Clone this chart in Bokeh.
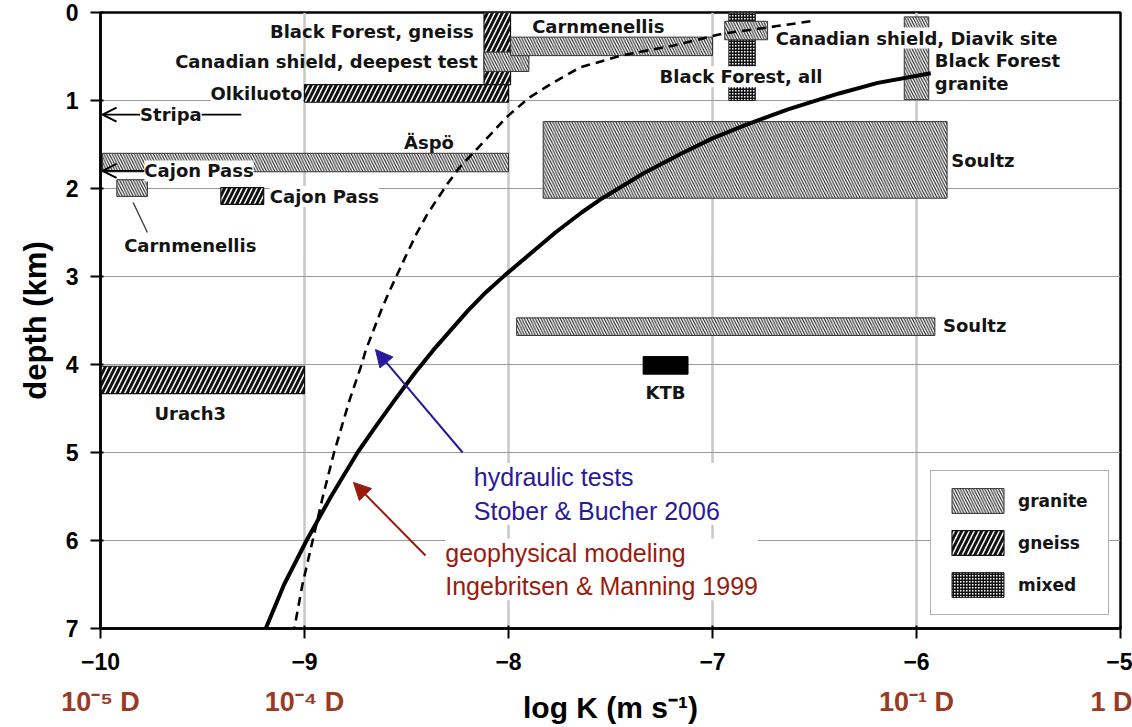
from bokeh.plotting import figure
from bokeh.models import (Range1d, FixedTicker, LinearAxis, ColumnDataSource, Label,
                          Arrow, OpenHead, NormalHead, Legend, LegendItem)
from bokeh.embed import file_html
from bokeh.resources import INLINE

# ---------------- data ----------------
granite_sites = ["Canadian shield, deepest test", "Carnmenellis (upper)", "Äspö",
                 "Carnmenellis (lower)", "Canadian shield, Diavik site",
                 "Black Forest granite", "Soultz (upper)", "Soultz (lower)"]
granite_logk_min = [-8.12, -7.99, -9.99, -9.92, -6.94, -6.06, -7.83, -7.96]
granite_logk_max = [-7.90, -7.00, -8.00, -9.77, -6.73, -5.94, -5.85, -5.91]
granite_depth_top = [0.45, 0.28, 1.60, 1.90, 0.10, 0.05, 1.24, 3.47]
granite_depth_bottom = [0.67, 0.49, 1.81, 2.09, 0.31, 0.99, 2.11, 3.67]

gneiss_sites = ["Black Forest, gneiss", "Olkiluoto", "Cajon Pass", "Urach3"]
gneiss_logk_min = [-8.12, -9.00, -9.41, -10.00]
gneiss_logk_max = [-7.99, -8.00, -9.20, -9.00]
gneiss_depth_top = [0.00, 0.82, 1.99, 4.02]
gneiss_depth_bottom = [0.82, 1.02, 2.18, 4.33]

mixed_sites = ["Black Forest, all"]
mixed_logk_min = [-6.92]
mixed_logk_max = [-6.79]
mixed_depth_top = [0.00]
mixed_depth_bottom = [1.00]

ktb_logk_min = [-7.34]
ktb_logk_max = [-7.12]
ktb_depth_top = [3.91]
ktb_depth_bottom = [4.11]

# sites whose values lie below log K = -10 (shown as arrows)
offscale_sites = ["Stripa", "Cajon Pass"]
offscale_depth = [1.16, 1.80]

# geophysical modeling, Ingebritsen & Manning 1999 (solid)
im_logk = [-5.93, -6.19, -6.38, -6.63, -6.84, -7.00, -7.15, -7.34, -7.54, -7.64, -7.77,
           -8.02, -8.12, -8.20, -8.37, -8.46, -8.56, -8.65, -8.74, -8.87, -8.99, -9.10, -9.19]
im_depth = [0.69, 0.80, 0.92, 1.10, 1.28, 1.43, 1.60, 1.83, 2.11, 2.27, 2.50,
            2.99, 3.20, 3.39, 3.84, 4.10, 4.41, 4.70, 5.00, 5.50, 6.00, 6.50, 7.00]

# hydraulic tests, Stober & Bucher 2006 (dashed)
sb_logk = [-6.52, -6.73, -6.95, -7.19, -7.45, -7.65, -7.79, -7.90, -8.01, -8.13, -8.24,
           -8.30, -8.355, -8.40, -8.45, -8.51, -8.55, -8.59, -8.625, -8.66, -8.70, -8.72,
           -8.78, -8.855, -8.91, -8.96, -9.01, -9.05]
sb_depth = [0.10, 0.17, 0.24, 0.375, 0.49, 0.625, 0.81, 0.97, 1.19, 1.49, 1.76,
            1.95, 2.14, 2.30, 2.51, 2.80, 3.00, 3.20, 3.39, 3.60, 3.84, 4.00,
            4.41, 5.00, 5.50, 6.00, 6.50, 7.00]

x_ticks = [-10, -9, -8, -7, -6, -5]
y_ticks = [0, 1, 2, 3, 4, 5, 6, 7]
darcy_ticks = [-10, -9, -6, -5]
darcy_labels = ["10⁻⁵ D", "10⁻⁴ D", "10⁻¹ D", "1 D"]

# ---------------- figure ----------------
p = figure(width=1132, height=727, x_range=Range1d(-10, -5), y_range=Range1d(7, 0),
           output_backend="svg", toolbar_location=None,
           min_border_left=100, min_border_right=12, min_border_top=12, min_border_bottom=99,
           background_fill_color="white", border_fill_color="white")
p.outline_line_color = "black"
p.outline_line_width = 2.5

TICK_FONT = "Liberation Sans"
LBL_FONT = "DejaVu Sans"

xa = p.xaxis[0]
xa.ticker = FixedTicker(ticks=x_ticks)
ya = p.yaxis[0]
ya.ticker = FixedTicker(ticks=y_ticks)
for ax in (xa, ya):
    ax.axis_line_width = 2.5
    ax.axis_line_color = "black"
    ax.major_tick_line_width = 2
    ax.major_tick_line_color = "black"
    ax.major_tick_out = 10
    ax.major_tick_in = 3
    ax.minor_tick_line_color = None
    ax.major_label_text_font = TICK_FONT
    ax.major_label_text_font_style = "bold"
    ax.major_label_text_font_size = "23px"
    ax.major_label_text_color = "black"
xa.major_label_standoff = 14
ya.major_label_standoff = 12
ya.axis_label = "depth (km)"
ya.axis_label_text_font = TICK_FONT
ya.axis_label_text_font_style = "bold"
ya.axis_label_text_font_size = "31px"
ya.axis_label_text_color = "black"
ya.axis_label_standoff = 10

ax2 = LinearAxis(ticker=FixedTicker(ticks=darcy_ticks),
                 major_label_overrides={t: l for t, l in zip(darcy_ticks, darcy_labels)})
ax2.axis_line_color = None
ax2.major_tick_line_color = None
ax2.minor_tick_line_color = None
ax2.major_tick_out = 0
ax2.major_tick_in = 0
ax2.major_label_standoff = 14
ax2.major_label_text_font = TICK_FONT
ax2.major_label_text_font_style = "bold"
ax2.major_label_text_font_size = "27px"
ax2.major_label_text_color = "#9b3a22"
ax2.axis_label = "log K (m s⁻¹)"
ax2.axis_label_text_font = TICK_FONT
ax2.axis_label_text_font_style = "bold"
ax2.axis_label_text_font_size = "30px"
ax2.axis_label_text_color = "black"
ax2.axis_label_standoff = -29
p.add_layout(ax2, "below")

p.xgrid.ticker = FixedTicker(ticks=[-9, -8, -7, -6])
p.xgrid.grid_line_color = "#c8c8c8"
p.xgrid.grid_line_width = 2.5
p.ygrid.ticker = FixedTicker(ticks=[1, 2, 3, 4, 5, 6])
p.ygrid.grid_line_color = "#9a9a9a"
p.ygrid.grid_line_width = 1.2

# ---------------- bars ----------------
gneiss_src = ColumnDataSource(dict(l=gneiss_logk_min, r=gneiss_logk_max,
                                   t=gneiss_depth_top, b=gneiss_depth_bottom))
granite_src = ColumnDataSource(dict(l=granite_logk_min, r=granite_logk_max,
                                    t=granite_depth_top, b=granite_depth_bottom))
mixed_src = ColumnDataSource(dict(l=mixed_logk_min, r=mixed_logk_max,
                                  t=mixed_depth_top, b=mixed_depth_bottom))
ktb_src = ColumnDataSource(dict(l=ktb_logk_min, r=ktb_logk_max,
                                t=ktb_depth_top, b=ktb_depth_bottom))

r_mixed = p.quad(left="l", right="r", top="t", bottom="b", source=mixed_src,
                 fill_color="white", line_color="#222222", line_width=1,
                 hatch_pattern="+", hatch_scale=3, hatch_weight=2, hatch_color="#111111")
r_gneiss = p.quad(left="l", right="r", top="t", bottom="b", source=gneiss_src,
                  fill_color="white", line_color="#111111", line_width=1.2,
                  hatch_pattern="/", hatch_scale=10, hatch_weight=3, hatch_color="#111111")
r_granite = p.quad(left="l", right="r", top="t", bottom="b", source=granite_src,
                   fill_color="white", line_color="#333333", line_width=1,
                   hatch_pattern="\\", hatch_scale=5.5, hatch_weight=1.1, hatch_color="#222222")
p.quad(left="l", right="r", top="t", bottom="b", source=ktb_src,
       fill_color="black", line_color="black", line_width=1)

# ---------------- curves ----------------
p.line(sb_logk, sb_depth, line_color="black", line_width=2.6, line_dash="9 6",
       line_join="round")
p.line(im_logk, im_depth, line_color="black", line_width=4, line_join="round")

# ---------------- arrows for off-scale sites ----------------
arrow_start = [-9.31, -9.78]
for d, xs in zip(offscale_depth, arrow_start):
    p.add_layout(Arrow(end=OpenHead(size=14, line_width=2, line_color="black"),
                       x_start=xs, y_start=d, x_end=-9.99, y_end=d,
                       line_width=1.6, line_color="black"))
# leader line for lower Carnmenellis
p.line([-9.84, -9.77], [2.16, 2.50], line_color="#333333", line_width=1.3)

# ---------------- site labels ----------------
site_labels = [
    ("Black Forest, gneiss", -8.17, 0.22, "right", False),
    ("Canadian shield, deepest test", -8.15, 0.56, "right", False),
    ("Olkiluoto", -9.01, 0.92, "right", True),
    ("Stripa", -9.655, 1.16, "center", True),
    ("Äspö", -8.39, 1.48, "center", False),
    ("Cajon Pass", -9.785, 1.80, "left", True),
    ("Cajon Pass", -9.17, 2.09, "left", True),
    ("Carnmenellis", -9.56, 2.65, "center", True),
    ("Carnmenellis", -7.56, 0.16, "center", False),
    ("Canadian shield, Diavik site", -6.69, 0.29, "left", True),
    ("Black Forest, all", -6.86, 0.73, "center", True),
    ("Black Forest", -5.91, 0.55, "left", False),
    ("granite", -5.91, 0.81, "left", False),
    ("Soultz", -5.83, 1.68, "left", False),
    ("Soultz", -5.87, 3.56, "left", False),
    ("KTB", -7.23, 4.32, "center", False),
    ("Urach3", -9.56, 4.56, "center", False),
]
for txt, x, y, al, bg in site_labels:
    kw = dict(background_fill_color="white", background_fill_alpha=1.0) if bg else {}
    p.add_layout(Label(x=x, y=y, text=txt, text_align=al, text_baseline="middle",
                       text_font=LBL_FONT, text_font_style="bold",
                       text_font_size="18px", text_color="#141414", **kw))

# ---------------- source annotations ----------------
p.add_layout(Arrow(end=NormalHead(size=17, fill_color="#2a1a9a", line_color="#2a1a9a"),
                   x_start=-8.225, y_start=5.0, x_end=-8.652, y_end=3.83,
                   line_color="#2a1a9a", line_width=2))
p.add_layout(Arrow(end=NormalHead(size=17, fill_color="#9a1a0e", line_color="#9a1a0e"),
                   x_start=-8.407, y_start=6.17, x_end=-8.76, y_end=5.34,
                   line_color="#9a1a0e", line_width=2))
p.add_layout(Label(x=-8.17, y=5.12, text="hydraulic tests\nStober & Bucher 2006",
                   text_align="left", text_baseline="top", text_font="Liberation Sans",
                   text_font_size="25px", text_color="#2a1a9a",
                   background_fill_color="white", background_fill_alpha=1.0))
p.add_layout(Label(x=-8.31, y=5.98, text="geophysical modeling\nIngebritsen & Manning 1999",
                   text_align="left", text_baseline="top", text_font="Liberation Sans",
                   text_font_size="25px", text_color="#9a1a0e",
                   background_fill_color="white", background_fill_alpha=1.0))

# ---------------- legend ----------------
legend = Legend(items=[LegendItem(label="granite", renderers=[r_granite]),
                       LegendItem(label="gneiss", renderers=[r_gneiss]),
                       LegendItem(label="mixed", renderers=[r_mixed])],
                location=(830, 13), glyph_width=65, glyph_height=31, spacing=11,
                padding=14, margin=0, label_standoff=8, label_width=76,
                label_text_font=LBL_FONT, label_text_font_style="bold",
                label_text_font_size="17px", label_text_color="#141414",
                border_line_color="#666666", border_line_width=1.5,
                background_fill_color="white", background_fill_alpha=1.0)
p.add_layout(legend)

open("out.html", "w").write(file_html(p, INLINE))
